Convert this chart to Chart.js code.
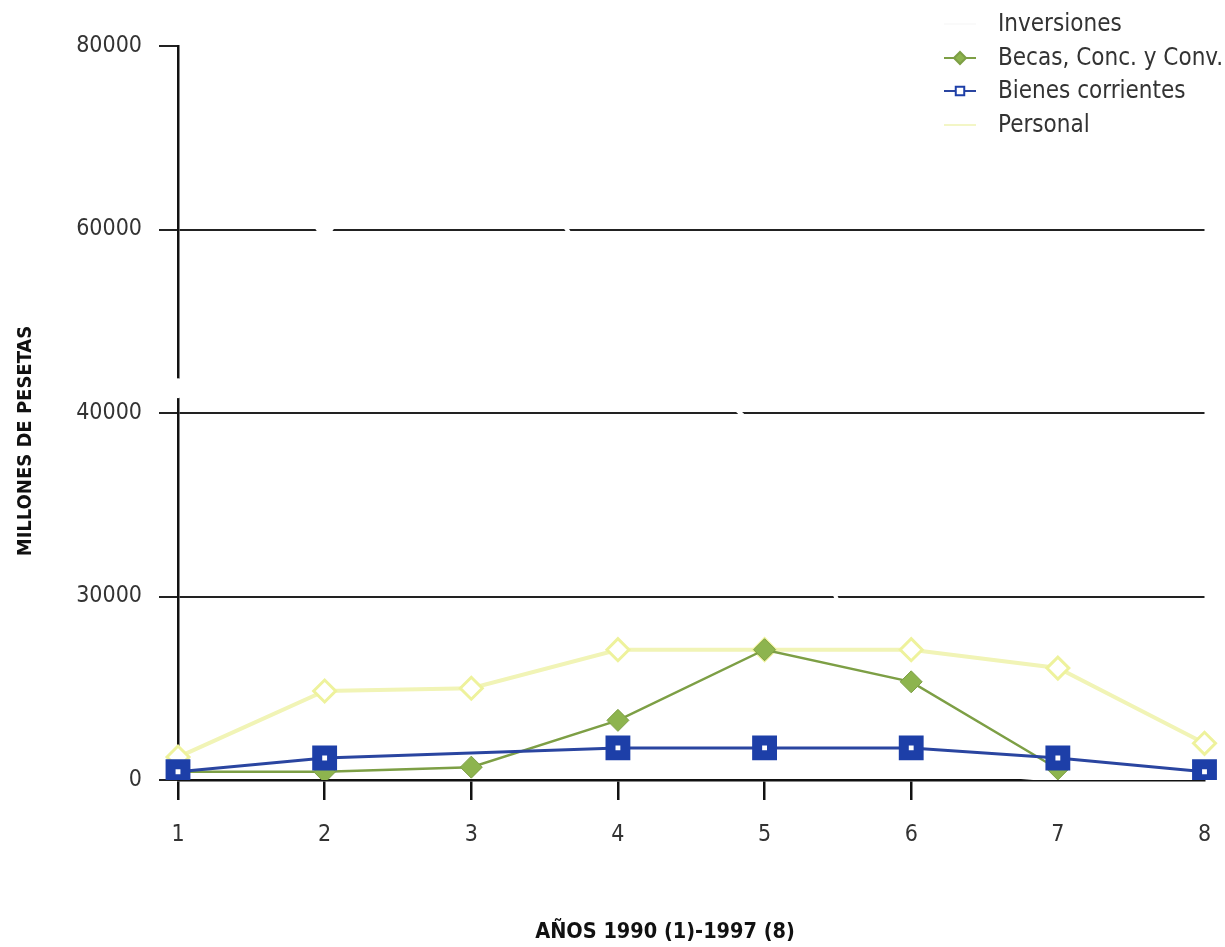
<!DOCTYPE html>
<html>
<head>
<meta charset="utf-8">
<script src="https://cdn.jsdelivr.net/npm/chart.js@4/dist/chart.umd.min.js"></script>
<style>
  html, body { margin: 0; padding: 0; background: #fff; }
  #wrap { width: 1225px; height: 947px; position: relative; }
</style>
</head>
<body>
<div id="wrap"><canvas id="grafico"></canvas></div>
<script>
// ==================== DATOS ====================
const anios = ['1', '2', '3', '4', '5', '6', '7', '8'];
const etiquetasY = ['0', '30000', '40000', '60000', '80000'];

const inversiones = [42700, 60500, 75000, 52000, 37600, 1300, 0, 0];
const becas = [900, 900, 1400, 6500, 14200, 10700, 1200, null];
const bienes = [900, 2400, null, 3500, 3500, 3500, 2400, 900];
const personal = [2500, 9700, 10000, 14200, 14200, 14200, 12200, 4000];

const tituloX = 'AÑOS 1990 (1)-1997 (8)';
const tituloY = 'MILLONES DE PESETAS';

const FUENTE = "'Liberation Sans Narrow', 'DejaVu Sans Condensed', 'Roboto Condensed', sans-serif";

// ==================== PLUGIN: títulos y leyenda ====================
const extras = {
    id: 'extras',
    afterDraw(chart) {
        const ctx = chart.ctx;
        ctx.save();
        ctx.fillStyle = '#111';
        ctx.textAlign = 'center';
        ctx.textBaseline = 'middle';
        ctx.font = 'bold 21.5px ' + FUENTE;
        ctx.fillText(tituloX, 665, 932);
        ctx.font = 'bold 20px ' + FUENTE;
        ctx.translate(26, 441);
        ctx.rotate(-Math.PI / 2);
        ctx.fillText(tituloY, 0, 0);
        ctx.restore();

        // leyenda arriba a la derecha
        const filas = [24, 58, 91, 125];
        chart.data.datasets.forEach((ds, i) => {
            const y = filas[i];
            ctx.save();
            ctx.strokeStyle = ds.leyendaLinea || ds.borderColor;
            ctx.lineWidth = 2;
            ctx.beginPath();
            ctx.moveTo(944, y);
            ctx.lineTo(976, y);
            ctx.stroke();
            if (ds.leyendaPunto) {
                ctx.fillStyle = ds.pointBackgroundColor;
                ctx.strokeStyle = ds.pointBorderColor;
                Chart.helpers.drawPoint(ctx, {
                    pointStyle: ds.pointStyle,
                    radius: ds.leyendaPunto,
                    borderWidth: ds.leyendaBorde,
                    rotation: 0
                }, 960, y);
            }
            ctx.fillStyle = '#333';
            ctx.font = '24px ' + FUENTE;
            ctx.textAlign = 'left';
            ctx.textBaseline = 'middle';
            ctx.fillText(ds.label, 998, y + 1);
            ctx.restore();
        });
    }
};

// ==================== GRÁFICO ====================
const ctx = document.getElementById('grafico').getContext('2d');
new Chart(ctx, {
    type: 'line',
    data: {
        labels: anios,
        datasets: [
            {
                label: 'Inversiones',
                data: inversiones,
                borderColor: '#ffffff',
                borderWidth: 4,
                pointRadius: 10,
                pointBorderWidth: 0,
                pointBackgroundColor: '#ffffff',
                leyendaLinea: '#fafafa',
                order: 4
            },
            {
                label: 'Becas, Conc. y Conv.',
                data: becas,
                borderColor: '#7d9f45',
                borderWidth: 2.5,
                pointStyle: 'rectRot',
                pointRadius: 11,
                pointBorderWidth: 1,
                pointBackgroundColor: '#8db44e',
                pointBorderColor: '#7d9f45',
                leyendaPunto: 6,
                leyendaBorde: 1,
                order: 2
            },
            {
                label: 'Bienes corrientes',
                data: bienes,
                spanGaps: true,
                borderColor: '#2a45a0',
                borderWidth: 3,
                pointStyle: 'rect',
                pointRadius: 10.5,
                pointBorderWidth: 10,
                pointBackgroundColor: '#ffffff',
                pointBorderColor: '#1d3fa8',
                leyendaPunto: 6,
                leyendaBorde: 5,
                order: 1
            },
            {
                label: 'Personal',
                data: personal,
                borderColor: '#f1f4b6',
                borderWidth: 4,
                pointStyle: 'rectRot',
                pointRadius: 11,
                pointBorderWidth: 3,
                pointBackgroundColor: '#ffffff',
                pointBorderColor: '#eef29c',
                leyendaLinea: '#f3f6c6',
                order: 3
            }
        ]
    },
    options: {
        responsive: true,
        maintainAspectRatio: false,
        animation: false,
        layout: { padding: { top: 46, right: 9, left: 0, bottom: 0 } },
        plugins: {
            legend: { display: false },
            tooltip: { enabled: false },
            title: { display: false }
        },
        scales: {
            x: {
                offset: false,
                afterFit: (scale) => {
                    scale.height = 167;
                    scale.paddingLeft = 0;
                    scale.paddingRight = 0;
                },
                border: { display: true, color: '#111', width: 2.5 },
                grid: {
                    drawOnChartArea: false,
                    tickLength: 20,
                    lineWidth: 2.5,
                    tickColor: (c) => (c.index >= 6 ? 'rgba(0,0,0,0)' : '#111')
                },
                ticks: {
                    padding: 21,
                    color: '#333',
                    font: { family: FUENTE, size: 23 }
                }
            },
            y: {
                min: 0,
                max: 80000,
                afterFit: (scale) => { scale.width = 178; },
                border: { display: true, color: '#111', width: 2.5 },
                grid: {
                    tickLength: 19,
                    lineWidth: 2,
                    color: (c) => (c.index === 4 ? 'rgba(0,0,0,0)' : '#222'),
                    tickColor: '#222'
                },
                ticks: {
                    stepSize: 20000,
                    padding: 17,
                    color: '#333',
                    font: { family: FUENTE, size: 23 },
                    callback: (v, i) => etiquetasY[i]
                }
            }
        }
    },
    plugins: [extras]
});
</script>
</body>
</html>
